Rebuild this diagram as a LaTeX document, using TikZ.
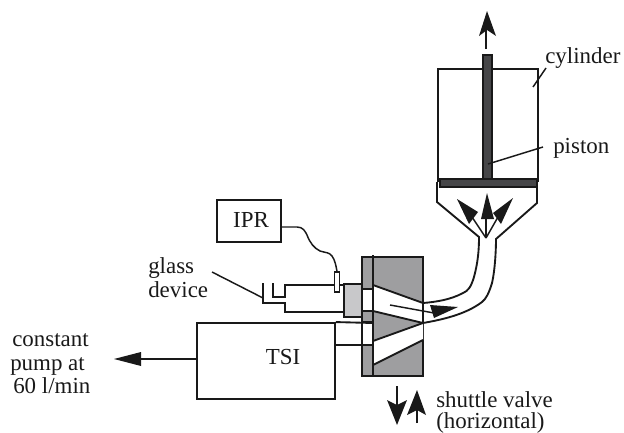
\documentclass[tikz,border=0pt]{standalone}
\usepackage{fontspec}
\setmainfont{Liberation Serif}
\definecolor{valvegray}{RGB}{158,158,160}
\definecolor{connectorgray}{RGB}{200,200,202}
\definecolor{pistongray}{RGB}{70,70,72}
\definecolor{inkline}{RGB}{25,25,25}
\tikzset{
  ln/.style={draw=inkline,line width=1.4pt},
  thin ln/.style={draw=inkline,line width=1.1pt},
  head/.style={fill=inkline,draw=none},
  lbl/.style={font=\fontsize{17.2}{20}\selectfont,text=inkline,inner sep=0pt,anchor=base west},
}
\begin{document}
\begin{tikzpicture}[x=0.75pt,y=-0.75pt]
\useasboundingbox (0,0) rectangle (624,432);
% cylinder
\draw[ln,fill=white] (438,182) -- (438,69) -- (538,69) -- (538,182);
\draw[ln] (437,182) -- (437,202) -- (479,237) .. controls (479,250) and (478,262) .. (474,277)
  .. controls (471,287) and (468,291) .. (463,293) .. controls (450,300) and (435,302) .. (423,303);
\draw[ln] (537,182) -- (537,203) -- (496,239) .. controls (496,250) and (495,270) .. (492,283)
  .. controls (489,293) and (486,299) .. (482,302) .. controls (465,315) and (440,320) .. (423,323);
\draw[ln,fill=pistongray] (483,55) rectangle (492,179);
\draw[ln,fill=pistongray] (440,179) rectangle (537,187);
% top arrow
\draw[ln] (486,49) -- (486,30);
\fill[head] (487,11) -- (496,36) -- (487,30) -- (479,36) -- cycle;
% funnel arrows
\draw[thin ln] (486,238) -- (486,210);
\draw[thin ln] (486,238) -- (472,217);
\draw[thin ln] (486,238) -- (498,217);
\fill[head] (487,193) -- (494,219) -- (481,219) -- cycle;
\fill[head] (457,199) -- (478,212) -- (469,224) -- cycle;
\fill[head] (513,198) -- (501,224) -- (493,213) -- cycle;
% valve block
\draw[ln,fill=valvegray] (362,257) rectangle (423,376);
\fill[white] (373,285) -- (423,303) -- (423,323) -- (373,311) -- cycle;
\fill[white] (373,341) -- (423,323) -- (423,340) -- (373,365) -- cycle;
\draw[ln,fill=white] (362,289) rectangle (373,311);
\draw[ln,fill=white] (362,322) rectangle (373,345);
\draw[ln] (373,255) -- (373,376);
\draw[ln] (373,285) -- (423,303) -- (423,323) -- (373,311);
\draw[ln] (373,341) -- (423,323);
\draw[ln] (373,365) -- (423,340);
% glass device
\draw[ln,fill=connectorgray] (344,284) rectangle (362,317);
\draw[ln] (263,283) -- (263,303) -- (285,303) -- (285,312) -- (344,312);
\draw[ln] (273,283) -- (273,297) -- (285,297) -- (285,285) -- (344,285);
\node[draw=inkline,line width=1.2pt,fill=white,minimum width=3.6pt,minimum height=15pt,inner sep=0pt] (port) at (337,282) {};
% IPR
\node[ln,fill=white,minimum width=48pt,minimum height=31.5pt,inner sep=0pt] (ipr) at (249,221) {};
\node[lbl,anchor=base] at (251,227) {IPR};
\draw[thin ln] (ipr.east |- 0,227) -- (297,227) .. controls (303,227) and (305,231) .. (307,235)
  .. controls (310,243) and (314,248) .. (320,251) .. controls (326,253) and (329,252) .. (332,256)
  .. controls (335,260) and (336,266) .. (port.north);
\coordinate (gl) at (212,272);
\draw[thin ln] (gl) -- (263,298);
\node[lbl] at (148,273) {glass};
\node[lbl] at (148,297) {device};
% TSI
\node[ln,minimum width=103.5pt,minimum height=57pt,inner sep=0pt] (tsi) at (266,361) {};
\draw[ln] (tsi.north east) -- (373,323);
\draw[ln] (335,345) -- (362,345);
\node[lbl,anchor=base] at (283,364) {TSI};
% arrow in valve
\draw[thin ln] (390,305) -- (434,313);
\fill[head] (458,307) -- (434,318) -- (430,305) -- cycle;
% pump
\coordinate (pm) at (196,359);
\draw[ln] (pm) -- (138,359);
\fill[head] (114,359) -- (141,352) -- (141,366) -- cycle;
\node[lbl] at (12,346) {constant};
\node[lbl] at (10,370) {pump at};
\node[lbl] at (13,393) {60 l/min};
% shuttle
\draw[ln] (397,386) -- (397,410);
\fill[head] (397,425) -- (387,400) -- (397,405) -- (407,400) -- cycle;
\draw[ln] (417,423) -- (417,405);
\fill[head] (417,390) -- (426,415) -- (417,410) -- (407,415) -- cycle;
\node[lbl] at (436,407) {shuttle valve};
\node[lbl] at (436,428) {(horizontal)};
% labels
\coordinate (cy) at (546,68);
\draw[thin ln] (cy) -- (533,87);
\node[lbl] at (545,63) {cylinder};
\coordinate (pi) at (543,147);
\draw[thin ln] (pi) -- (488,164);
\node[lbl] at (553,153) {piston};
\end{tikzpicture}
\end{document}
